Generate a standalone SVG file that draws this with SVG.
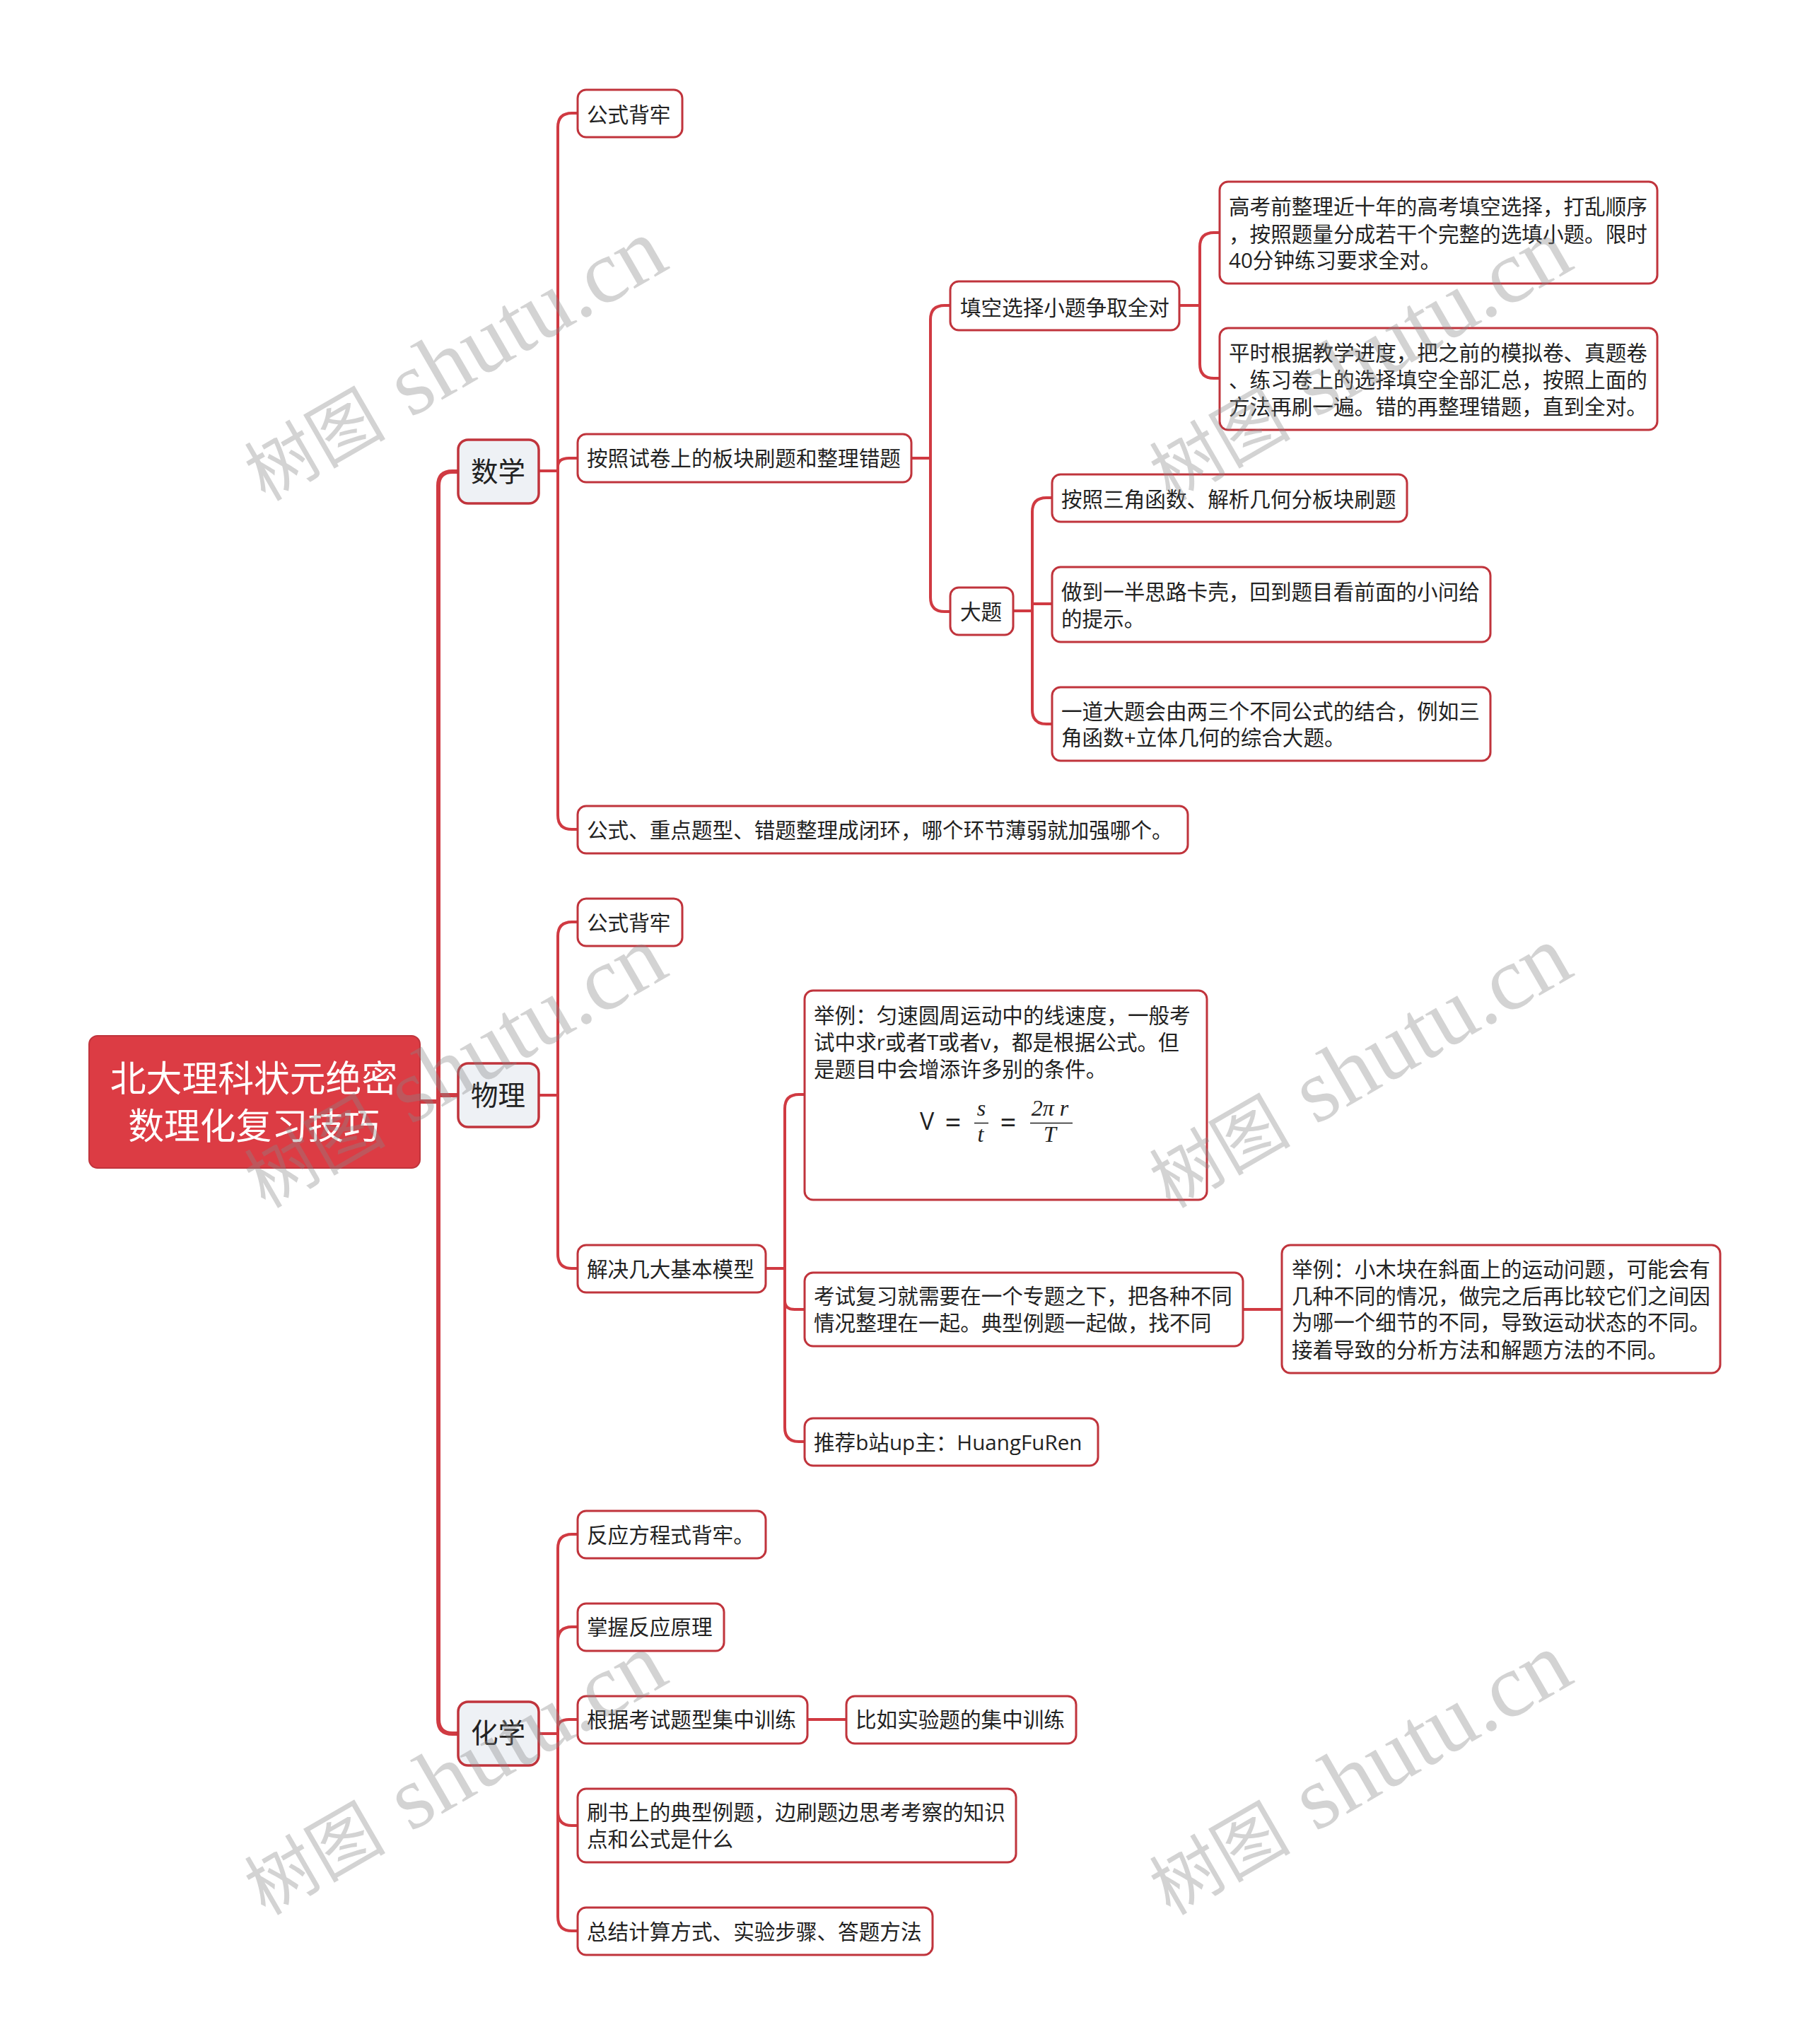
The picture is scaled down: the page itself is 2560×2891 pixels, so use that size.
<svg xmlns="http://www.w3.org/2000/svg" width="2560" height="2891" viewBox="0 0 2560 2891">
<style>
text{font-family:"Open Sans","Noto Sans CJK SC",sans-serif;fill:#222;font-size:29.600px}
.n{fill:#fff;stroke:#c0343c;stroke-width:3}
.l1{fill:#eef1f5;stroke:#c0343c;stroke-width:3.500}
.c{fill:none;stroke:#d03a42;stroke-width:4;stroke-linecap:round}
.m{fill:none;stroke:#d03a42;stroke-width:6;stroke-linecap:round}
.w{font-family:"Liberation Serif","Noto Sans CJK SC",serif;font-size:127px;fill:#888;fill-opacity:.37}
.wc{font-family:"Noto Sans CJK SC",serif;font-size:100px;font-weight:400}
.f{font-family:"Liberation Serif",serif;font-style:italic;font-size:32px;text-anchor:middle}
.e{font-size:40px;text-anchor:middle}
</style>
<rect width="2560" height="2891" fill="#fff"/>
<g id="connectors">
<path class="m" d="M594 1558H620M620 1558V687Q620 667 640 667H648M620 1549H648M620 1558V2432Q620 2452 640 2452H648"/>
<path class="c" d="M762 666H789M789 666V180Q789 160 809 160H817M789 666V660Q789 648 805 648H817M789 666V1153Q789 1173 809 1173H817"/>
<path class="c" d="M1289 648H1316M1316 648V452Q1316 432 1336 432H1344M1316 648V845Q1316 865 1336 865H1344"/>
<path class="c" d="M1668 432H1697M1697 432V349Q1697 329 1717 329H1725M1697 432V515Q1697 535 1717 535H1725"/>
<path class="c" d="M1433 864H1460M1460 864V724Q1460 704 1480 704H1488M1460 854H1488M1460 864V1004Q1460 1024 1480 1024H1488"/>
<path class="c" d="M762 1549H789M789 1549V1324Q789 1304 809 1304H817M789 1549V1774Q789 1794 809 1794H817"/>
<path class="c" d="M1083 1794H1110M1110 1794V1568Q1110 1548 1130 1548H1138M1110 1794V1840Q1110 1852 1124 1852H1138M1110 1794V2019Q1110 2039 1130 2039H1138"/>
<path class="c" d="M1758 1852H1813"/>
<path class="c" d="M762 2452H789M789 2452V2190Q789 2170 809 2170H817M789 2452V2321Q789 2301 809 2301H817M789 2452V2444Q789 2432 805 2432H817M789 2452V2562Q789 2582 809 2582H817M789 2452V2711Q789 2731 809 2731H817"/>
<path class="c" d="M1142 2432H1197"/>
</g>
<g id="root"><rect x="126" y="1465" width="468" height="187" rx="12" fill="#dc3c44" stroke="#c0343c" stroke-width="2"/><text x="359" y="1544" text-anchor="middle" style="font-size:50.800px;fill:#fff">北大理科状元绝密</text><text x="359" y="1611" text-anchor="middle" style="font-size:50.800px;fill:#fff">数理化复习技巧</text></g>
<g id="n-math"><rect class="l1" x="648" y="622" width="114" height="90" rx="14"/><text x="704.500" y="681" text-anchor="middle" style="font-size:38.500px">数学</text></g>
<g id="n-phys"><rect class="l1" x="648" y="1504" width="114" height="90" rx="14"/><text x="704.500" y="1563" text-anchor="middle" style="font-size:38.500px">物理</text></g>
<g id="n-chem"><rect class="l1" x="648" y="2407" width="114" height="90" rx="14"/><text x="704.500" y="2464.500" text-anchor="middle" style="font-size:38.500px">化学</text></g>
<g id="n1"><rect class="n" x="817" y="127" width="148" height="67" rx="12"/><text x="830" y="172.500">公式背牢</text></g>
<g id="n2"><rect class="n" x="817" y="614" width="472" height="68" rx="12"/><text x="830" y="659">按照试卷上的板块刷题和整理错题</text></g>
<g id="n3"><rect class="n" x="1344" y="398" width="324" height="69" rx="12"/><text x="1358" y="445.500">填空选择小题争取全对</text></g>
<g id="n4"><rect class="n" x="1725" y="257" width="619" height="144" rx="12"/><text x="1738" y="303">高考前整理近十年的高考填空选择，打乱顺序</text><text x="1738" y="341.500">，按照题量分成若干个完整的选填小题。限时</text><text x="1738" y="379">40分钟练习要求全对。</text></g>
<g id="n5"><rect class="n" x="1725" y="464" width="619" height="144" rx="12"/><text x="1738" y="510">平时根据教学进度，把之前的模拟卷、真题卷</text><text x="1738" y="548">、练习卷上的选择填空全部汇总，按照上面的</text><text x="1738" y="586">方法再刷一遍。错的再整理错题，直到全对。</text></g>
<g id="n6"><rect class="n" x="1344" y="831" width="89" height="67" rx="12"/><text x="1358" y="876">大题</text></g>
<g id="n7"><rect class="n" x="1488" y="671" width="502" height="67" rx="12"/><text x="1501" y="717">按照三角函数、解析几何分板块刷题</text></g>
<g id="n8"><rect class="n" x="1488" y="802" width="620" height="106" rx="12"/><text x="1501" y="848">做到一半思路卡壳，回到题目看前面的小问给</text><text x="1501" y="886">的提示。</text></g>
<g id="n9"><rect class="n" x="1488" y="972" width="620" height="104" rx="12"/><text x="1501" y="1017">一道大题会由两三个不同公式的结合，例如三</text><text x="1501" y="1054">角函数+立体几何的综合大题。</text></g>
<g id="n10"><rect class="n" x="817" y="1140" width="863" height="67" rx="12"/><text x="830" y="1185">公式、重点题型、错题整理成闭环，哪个环节薄弱就加强哪个。</text></g>
<g id="n11"><rect class="n" x="817" y="1271" width="148" height="67" rx="12"/><text x="830" y="1316">公式背牢</text></g>
<g id="n12"><rect class="n" x="817" y="1761" width="266" height="67" rx="12"/><text x="830" y="1806">解决几大基本模型</text></g>
<g id="n13"><rect class="n" x="1138" y="1401" width="569" height="296" rx="12"/><text x="1151" y="1447">举例：匀速圆周运动中的线速度，一般考</text><text x="1151" y="1485">试中求r或者T或者v，都是根据公式。但</text><text x="1151" y="1523">是题目中会增添许多别的条件。</text>
<text x="1301" y="1598" style="font-size:34px">V</text><text class="e" x="1348" y="1602">=</text><text class="f" x="1388" y="1578">s</text><path d="M1378 1588.500H1398M1457 1588.500H1517" stroke="#222" stroke-width="1.500"/><text class="f" x="1387" y="1615">t</text><text class="e" x="1426" y="1602">=</text><text class="f" x="1485" y="1578">2π r</text><text class="f" x="1485" y="1615">T</text></g>
<g id="n14"><rect class="n" x="1138" y="1800" width="620" height="104" rx="12"/><text x="1151" y="1843.500">考试复习就需要在一个专题之下，把各种不同</text><text x="1151" y="1881.500">情况整理在一起。典型例题一起做，找不同</text></g>
<g id="n15"><rect class="n" x="1813" y="1761" width="620" height="181" rx="12"/><text x="1827" y="1806">举例：小木块在斜面上的运动问题，可能会有</text><text x="1827" y="1844">几种不同的情况，做完之后再比较它们之间因</text><text x="1827" y="1881">为哪一个细节的不同，导致运动状态的不同。</text><text x="1827" y="1920">接着导致的分析方法和解题方法的不同。</text></g>
<g id="n16"><rect class="n" x="1138" y="2006" width="415" height="67" rx="12"/><text x="1151" y="2051">推荐b站up主：HuangFuRen</text></g>
<g id="n17"><rect class="n" x="817" y="2137" width="266" height="67" rx="12"/><text x="830" y="2182">反应方程式背牢。</text></g>
<g id="n18"><rect class="n" x="817" y="2268" width="207" height="67" rx="12"/><text x="830" y="2312">掌握反应原理</text></g>
<g id="n19"><rect class="n" x="817" y="2399" width="325" height="67" rx="12"/><text x="830" y="2442.500">根据考试题型集中训练</text></g>
<g id="n20"><rect class="n" x="1197" y="2399" width="325" height="67" rx="12"/><text x="1210" y="2442.500">比如实验题的集中训练</text></g>
<g id="n21"><rect class="n" x="817" y="2530" width="620" height="104" rx="12"/><text x="830" y="2574">刷书上的典型例题，边刷题边思考考察的知识</text><text x="830" y="2612">点和公式是什么</text></g>
<g id="n22"><rect class="n" x="817" y="2698" width="502" height="67" rx="12"/><text x="830" y="2743">总结计算方式、实验步骤、答题方法</text></g>
<g id="watermarks">
<text class="w" transform="translate(368 714) rotate(-30)"><tspan class="wc" x="8">树图</tspan><tspan x="245">shutu.cn</tspan></text>
<text class="w" transform="translate(368 1714) rotate(-30)"><tspan class="wc" x="8">树图</tspan><tspan x="245">shutu.cn</tspan></text>
<text class="w" transform="translate(368 2714) rotate(-30)"><tspan class="wc" x="8">树图</tspan><tspan x="245">shutu.cn</tspan></text>
<text class="w" transform="translate(1648 714) rotate(-30)"><tspan class="wc" x="8">树图</tspan><tspan x="245">shutu.cn</tspan></text>
<text class="w" transform="translate(1648 1714) rotate(-30)"><tspan class="wc" x="8">树图</tspan><tspan x="245">shutu.cn</tspan></text>
<text class="w" transform="translate(1648 2714) rotate(-30)"><tspan class="wc" x="8">树图</tspan><tspan x="245">shutu.cn</tspan></text>
</g>
</svg>
